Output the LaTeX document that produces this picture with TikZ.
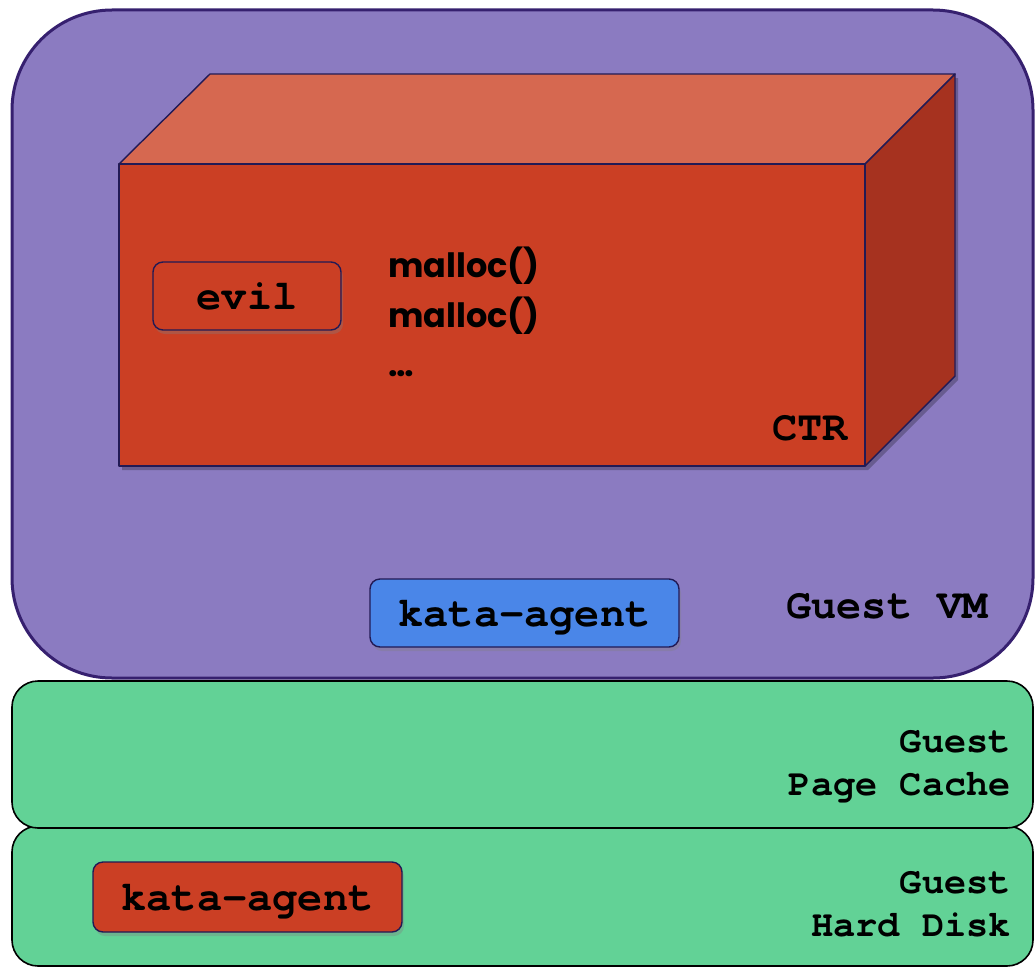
\documentclass[tikz,border=0pt]{standalone}
\usepackage{fontspec}
\setmonofont{TeX Gyre Cursor}
\newfontfamily\callfont{Poppins}
\usetikzlibrary{shadows}

\definecolor{vmfill}{HTML}{8B7BC1}
\definecolor{vmline}{HTML}{36206F}
\definecolor{ctrfront}{HTML}{CB3F24}
\definecolor{ctrtop}{HTML}{D66850}
\definecolor{ctrside}{HTML}{A6321F}
\definecolor{diskfill}{HTML}{62D296}
\definecolor{agentblue}{HTML}{4A86E8}
\definecolor{boxline}{HTML}{221A55}

\begin{document}
\begin{tikzpicture}
        [
            x=1pt, y=-1pt,
            every node/.style={inner sep=0pt, font=\ttfamily\bfseries\fontsize{42}{50}\selectfont},
            vmbox/.style={draw=vmline, line width=3pt, fill=vmfill, rounded corners=100pt},
            layer/.style={draw=black, line width=1.6pt, fill=diskfill, rounded corners=26pt},
            procbox/.style={draw=boxline, line width=1.4pt, rounded corners=10pt, text depth=0pt,
                drop shadow={opacity=0.35, shadow xshift=2pt, shadow yshift=-4pt}},
            face/.style={draw=boxline, line width=1.4pt, line join=round},
            calltext/.style={anchor=west, font=\callfont\bfseries\fontsize{33.5}{40}\selectfont},
            layertext/.style={anchor=east, align=right, font=\ttfamily\bfseries\fontsize{37}{43}\selectfont}
        ]

        \useasboundingbox (0,0) rectangle (1035,966);

        % disk layers, lower one first
        \node[layer, minimum width=1021pt, minimum height=140pt] (disk) at (522.5,896) {};
        \node[layer, minimum width=1021pt, minimum height=147pt] (cache) at (522.5,754.5) {};
        \node[layertext] (disklabel) at (1011,904) {Guest\\Hard Disk};
        \node[layertext] (cachelabel) at (1011,767) {Guest\\Page Cache};
        \node[procbox, fill=ctrfront, minimum width=309pt, minimum height=70pt] (diskagent) at (247.5,897) {kata-agent};

        % guest vm
        \node[vmbox, minimum width=1021pt, minimum height=668pt] (vm) at (522.5,344) {};
        \node[anchor=east] (vmlabel) at (988,606) {Guest VM};
        \node[procbox, fill=agentblue, minimum width=309pt, minimum height=68pt] (agent) at (524.5,613) {kata-agent};

        % container cuboid
        \coordinate (fa) at (119,164);
        \coordinate (fb) at (865,164);
        \coordinate (fc) at (865,466);
        \coordinate (fd) at (119,466);
        \coordinate (ba) at (210,74);
        \coordinate (bb) at (955,74);
        \coordinate (bc) at (955,376);
        \fill[black, opacity=0.25] ([shift={(3,4)}]fa) -- ([shift={(3,4)}]ba) -- ([shift={(3,4)}]bb)
            -- ([shift={(3,4)}]bc) -- ([shift={(3,4)}]fc) -- ([shift={(3,4)}]fd) -- cycle;
        \draw[face, fill=ctrtop] (fa) -- (ba) -- (bb) -- (fb) -- cycle;
        \draw[face, fill=ctrside] (fb) -- (bb) -- (bc) -- (fc) -- cycle;
        \draw[face, fill=ctrfront] (fa) rectangle (fc);
        \node[anchor=east] (ctrlabel) at (848,428) {CTR};

        \node[procbox, fill=ctrfront, minimum width=188pt, minimum height=68pt] (evil) at (247,296) {evil};
        \node[calltext] (call1) at (388,266) {malloc()};
        \node[calltext] (call2) at (388,316) {malloc()};
        \node[calltext] (call3) at (388,374) {…};
    \end{tikzpicture}
\end{document}
